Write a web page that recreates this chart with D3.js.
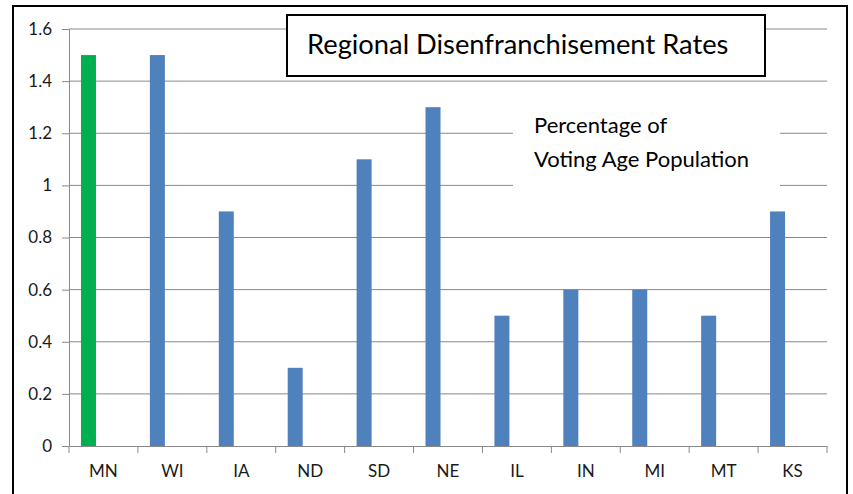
<!DOCTYPE html>
<html>
<head>
<meta charset="utf-8">
<script src="https://cdn.jsdelivr.net/npm/d3@7"></script>
<style>
  body { margin: 0; background: #fff; }
  svg { display: block; font-family: Lato, "Open Sans", sans-serif; }
</style>
</head>
<body>
<main></main>
<script>
// Data
let states = ['MN', 'WI', 'IA', 'ND', 'SD', 'NE', 'IL', 'IN', 'MI', 'MT', 'KS']
let rates = [1.5, 1.5, 0.9, 0.3, 1.1, 1.3, 0.5, 0.6, 0.6, 0.5, 0.9]
let yTicks = [0, 0.2, 0.4, 0.6, 0.8, 1, 1.2, 1.4, 1.6]
let highlight = 'MN'

let title = 'Regional Disenfranchisement Rates'
let note = ['Percentage of', 'Voting Age Population']

let width = 853
let height = 494
let plot = {left: 69, right: 827, top: 29, bottom: 446}

let svg = d3.select('main')
  .append('svg')
  .attr('width', width)
  .attr('height', height)

// outer frame (bottom runs off the picture)
svg.append('rect')
   .attr('x', 13).attr('y', 6)
   .attr('width', 834).attr('height', 500)
   .attr('fill', 'none')
   .attr('stroke', '#000')
   .attr('stroke-width', 2)

// category slots, ticks sit between them
let x = d3.scaleBand()
          .domain(states)
          .range([plot.left, plot.right])

// bars sit left of centre in each slot (Excel clustered look)
let xBar = d3.scaleBand()
             .domain(states)
             .range([plot.left, plot.right])
             .paddingInner(1 - 15 / x.step())
             .paddingOuter((1 - 15 / x.step()) / 2)
             .align(0.222)

let y = d3.scaleLinear()
          .domain([0, 1.6])
          .range([plot.bottom, plot.top])

// gridlines
svg.append('g')
   .selectAll('line')
   .data(yTicks.filter(d => d > 0))
   .join('line')
   .attr('x1', plot.left).attr('x2', plot.right)
   .attr('y1', d => y(d)).attr('y2', d => y(d))
   .attr('stroke', '#898989')
   .attr('stroke-width', 1)

// y axis
let yAxis = svg.append('g')
   .attr('transform', `translate(${plot.left}, 0)`)
   .call(d3.axisLeft(y).tickValues(yTicks).tickFormat(d3.format('')).tickSize(7).tickPadding(10))
yAxis.select('.domain').attr('stroke', '#898989')
yAxis.selectAll('.tick line').attr('stroke', '#898989')
yAxis.selectAll('.tick text')
     .attr('fill', '#1a1a1a')
     .style('font-size', '17px')
     .style('font-family', 'Lato, sans-serif')

// x axis, ticks on slot boundaries
let xAxis = svg.append('g')
   .attr('transform', `translate(0, ${plot.bottom})`)
   .call(d3.axisBottom(x).tickSize(0).tickPadding(19))
xAxis.select('.domain').attr('stroke', '#898989')
xAxis.selectAll('.tick text')
     .attr('fill', '#1a1a1a')
     .style('font-size', '17px')
     .style('font-family', 'Lato, sans-serif')
xAxis.selectAll('line.bound')
     .data(states.concat(['end']))
     .join('line')
     .attr('class', 'bound')
     .attr('x1', (d, i) => plot.left + i * x.step())
     .attr('x2', (d, i) => plot.left + i * x.step())
     .attr('y1', 0).attr('y2', 7)
     .attr('stroke', '#898989')

// white patch behind the note text
svg.append('rect')
   .attr('x', 513).attr('y', 96)
   .attr('width', 267).attr('height', 100)
   .attr('fill', '#fff')

// bars
svg.append('g')
   .selectAll('rect')
   .data(states)
   .join('rect')
   .attr('x', d => xBar(d))
   .attr('y', (d, i) => y(rates[i]))
   .attr('width', xBar.bandwidth())
   .attr('height', (d, i) => y(0) - y(rates[i]))
   .attr('fill', d => d == highlight ? '#00B050' : '#4F81BD')

// title box
svg.append('rect')
   .attr('x', 287).attr('y', 15)
   .attr('width', 478).attr('height', 61)
   .attr('fill', '#fff')
   .attr('stroke', '#000')
   .attr('stroke-width', 2)

svg.append('text')
   .attr('x', 307).attr('y', 54)
   .attr('fill', '#000')
   .style('font-size', '27.3px')
   .text(title)

svg.append('g')
   .selectAll('text')
   .data(note)
   .join('text')
   .attr('x', 534)
   .attr('y', (d, i) => 133 + i * 34)
   .attr('fill', '#000')
   .style('font-size', '22px')
   .text(d => d)
</script>
</body>
</html>
